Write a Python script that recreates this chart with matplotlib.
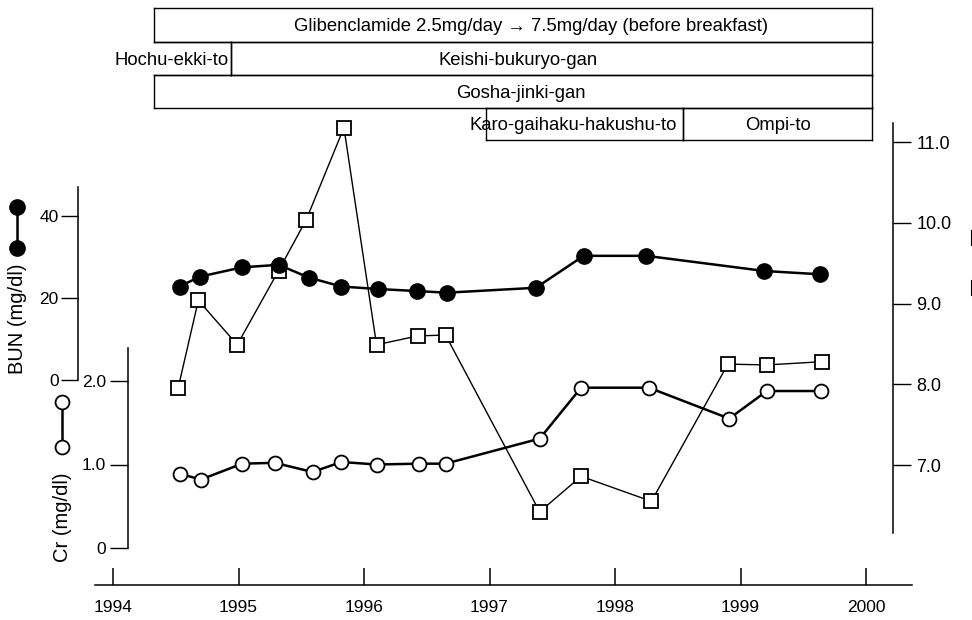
import matplotlib
matplotlib.use("Agg")
import matplotlib.pyplot as plt
from matplotlib.lines import Line2D
import matplotlib.transforms as mtransforms

plt.rcParams['font.family'] = ['Liberation Sans', 'DejaVu Sans']
plt.rcParams['font.size'] = 12

# --- data ---
bun_year = [1994.53, 1994.69, 1995.03, 1995.32, 1995.56, 1995.82, 1996.11, 1996.42,
            1996.66, 1997.37, 1997.75, 1998.25, 1999.19, 1999.63]
bun_val = [22.7, 25.1, 27.4, 28.0, 24.9, 22.7, 22.1, 21.6, 21.2, 22.4, 30.2, 30.2, 26.5, 25.7]

cr_year = [1994.53, 1994.70, 1995.03, 1995.29, 1995.59, 1995.82, 1996.10, 1996.44,
           1996.65, 1997.40, 1997.73, 1998.27, 1998.91, 1999.21, 1999.64]
cr_val = [0.89, 0.82, 1.01, 1.02, 0.91, 1.03, 1.00, 1.01, 1.01, 1.31, 1.92, 1.92, 1.55, 1.88, 1.88]

hba_year = [1994.52, 1994.68, 1994.99, 1995.32, 1995.54, 1995.84, 1996.10, 1996.43,
            1996.65, 1997.40, 1997.73, 1998.29, 1998.90, 1999.21, 1999.65]
hba_val = [7.96, 9.04, 8.49, 9.41, 10.04, 11.18, 8.49, 8.60, 8.61, 6.42, 6.86, 6.55, 8.25, 8.24, 8.28]

years = [1994, 1995, 1996, 1997, 1998, 1999, 2000]
bun_ticks = [0, 20, 40]
cr_ticks = [0, 1.0, 2.0]
cr_ticklabels = ["0", "1.0", "2.0"]
hba_ticks = [7.0, 8.0, 9.0, 10.0, 11.0]

# treatment bars: label, start, end, row, label x, alignment
treat_label = ["Glibenclamide 2.5mg/day \u2192 7.5mg/day (before breakfast)",
               "Hochu-ekki-to", "Keishi-bukuryo-gan", "Gosha-jinki-gan",
               "Karo-gaihaku-hakushu-to", "Ompi-to"]
treat_start = [1994.33, 1994.33, 1994.94, 1994.33, 1996.97, 1998.54]
treat_end = [2000.05, 1994.94, 2000.05, 2000.05, 1998.54, 2000.05]
treat_row = [0, 1, 1, 2, 3, 3]
treat_text_x = [1997.33, 1994.92, 1997.23, 1997.25, 1997.67, 1999.30]
treat_ha = ["center", "right", "center", "center", "center", "center"]

# --- figure ---
W, H = 972, 620
fig = plt.figure(figsize=(W / 100, H / 100), dpi=100)
x_axis_px = 585
ax = fig.add_axes([0, (H - x_axis_px) / H, 1, x_axis_px / H])

px_per_year = 125.5
x0_px = 113
ax.set_xlim(1994 - x0_px / px_per_year, 1994 + (W - x0_px) / px_per_year)


def year_at(px):
    return 1994 + (px - x0_px) / px_per_year


# HbA1c scale on the main axes (right spine)
hba_ppu, hba_ref_px = 80.7, 465
ax.set_ylim(7 - (x_axis_px - hba_ref_px) / hba_ppu, 7 + hba_ref_px / hba_ppu)

ax_cr = ax.twinx()
ax_bun = ax.twinx()

bun_ppu, bun_zero_px = 4.095, 379.5
ax_bun.set_ylim(-(x_axis_px - bun_zero_px) / bun_ppu, bun_zero_px / bun_ppu)

cr_ppu, cr_zero_px = 83.5, 548
ax_cr.set_ylim(-(x_axis_px - cr_zero_px) / cr_ppu, cr_zero_px / cr_ppu)

for a in (ax, ax_cr, ax_bun):
    for s in a.spines.values():
        s.set_visible(False)
        s.set_linewidth(1.1)

# bottom time axis
ax.spines['bottom'].set_visible(True)
ax.spines['bottom'].set_bounds(year_at(95), year_at(912))
ax.set_xticks(years)
ax.set_xticklabels([str(y) for y in years])
ax.tick_params(axis='x', direction='in', length=12, width=1.1, pad=11, labelsize=12.5)

# right HbA1c axis
ax.yaxis.tick_right()
ax.spines['right'].set_visible(True)
ax.spines['right'].set_position(('data', year_at(893)))
ax.spines['right'].set_bounds(6.16, 11.24)
ax.set_yticks(hba_ticks)
ax.set_yticklabels(["%.1f" % v for v in hba_ticks])
ax.tick_params(axis='y', direction='out', length=13, width=1.0, pad=4, labelsize=13)

# left BUN axis
ax_bun.yaxis.tick_left()
ax_bun.spines['left'].set_visible(True)
ax_bun.spines['left'].set_position(('data', year_at(78)))
ax_bun.spines['left'].set_bounds(0, 47)
ax_bun.set_yticks(bun_ticks)
ax_bun.tick_params(axis='y', direction='out', length=12, width=1.0, pad=2, labelsize=12.5)

# left Cr axis
ax_cr.yaxis.tick_left()
ax_cr.spines['left'].set_visible(True)
ax_cr.spines['left'].set_position(('data', year_at(128)))
ax_cr.spines['left'].set_bounds(0, 2.4)
ax_cr.set_yticks(cr_ticks)
ax_cr.set_yticklabels(cr_ticklabels)
ax_cr.tick_params(axis='y', direction='out', length=13, width=1.0, pad=3, labelsize=12.5)

# series
ax.plot(hba_year, hba_val, color='black', lw=1.0, marker='s', ms=9.5,
        mfc='white', mec='black', mew=1.3, clip_on=False, zorder=3)
ax_cr.plot(cr_year, cr_val, color='black', lw=1.8, marker='o', ms=10,
           mfc='white', mec='black', mew=1.3, clip_on=False, zorder=3)
ax_bun.plot(bun_year, bun_val, color='black', lw=1.8, marker='o', ms=11,
            mfc='black', mec='black', clip_on=False, zorder=3)

# treatment boxes (x in years, y in axes fraction)
trans = mtransforms.blended_transform_factory(ax.transData, ax.transAxes)
row_edges_px = [8, 42, 75, 108, 140]


def ay(px):
    return (x_axis_px - px) / x_axis_px


for lab, s, e, r, tx, ha in zip(treat_label, treat_start, treat_end, treat_row,
                                treat_text_x, treat_ha):
    top, bot = ay(row_edges_px[r]), ay(row_edges_px[r + 1])
    kw = dict(color='black', lw=1.0, transform=trans, clip_on=False)
    ax.plot([s, e], [top, top], **kw)
    ax.plot([s, e], [bot, bot], **kw)
    ax.plot([e, e], [top, bot], **kw)
    if lab != "Hochu-ekki-to":
        ax.plot([s, s], [top, bot], **kw)
    ax.text(tx, (top + bot) / 2 - 0.003, lab, ha=ha, va='center', fontsize=13.3,
            transform=trans)


# legend keys drawn at the left, and the cut-off ones at the right edge
def fx(px):
    return px / W


def fy(px):
    return 1 - px / H


fig.add_artist(Line2D([fx(17), fx(17)], [fy(207), fy(248)], color='black', lw=1.8,
                      marker='o', ms=11, mfc='black', transform=fig.transFigure))
fig.add_artist(Line2D([fx(62), fx(62)], [fy(402), fy(447)], color='black', lw=1.8,
                      marker='o', ms=10, mfc='white', mew=1.3, transform=fig.transFigure))
fig.add_artist(Line2D([fx(979), fx(979)], [fy(238), fy(288)], color='black', lw=1.0,
                      marker='s', ms=9.5, mfc='white', mew=1.5, transform=fig.transFigure))
fig.text(fx(18), fy(319), "BUN (mg/dl)", rotation=90, ha='center', va='center', fontsize=14.5)
fig.text(fx(62), fy(517), "Cr (mg/dl)", rotation=90, ha='center', va='center', fontsize=14.5)

fig.savefig("out.png", dpi=100, facecolor='white')
